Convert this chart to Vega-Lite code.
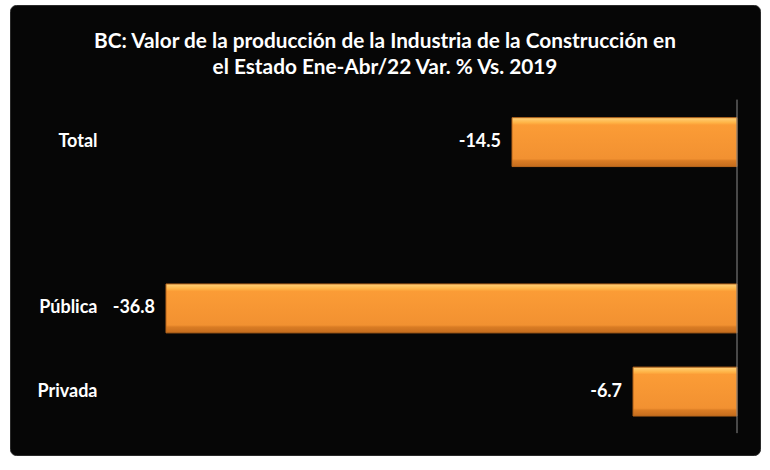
{
  "$schema": "https://vega.github.io/schema/vega-lite/v6.json",
  "width": 750,
  "height": 450,
  "autosize": "none",
  "padding": {"left": 10, "top": 5, "right": 10, "bottom": 15},
  "background": "white",
  "title": {
    "text": ["BC: Valor de la producción de la Industria de la Construcción en", "el Estado Ene-Abr/22 Var. % Vs. 2019"],
    "color": "white",
    "font": "Lato",
    "fontSize": 20.8,
    "fontWeight": "bold",
    "lineHeight": 26,
    "anchor": "middle",
    "offset": -74
  },
  "config": {
    "view": {"fill": "#060606", "stroke": "#2a2a2a", "cornerRadius": 6},
    "locale": {"number": {"decimal": ".", "thousands": ",", "grouping": [3], "currency": ["$", ""], "minus": "-"}}
  },
  "data": {
    "values": [
      {"sector": "Total", "var": -14.5},
      {"sector": "Pública", "var": -36.8},
      {"sector": "Privada", "var": -6.7}
    ]
  },
  "layer": [
    {
      "mark": {
        "type": "bar",
        "stroke": "#B9671C",
        "strokeWidth": 1,
        "color": {
          "gradient": "linear",
          "x1": 0, "y1": 0, "x2": 0, "y2": 1,
          "stops": [
            {"offset": 0, "color": "#FFD27A"},
            {"offset": 0.1, "color": "#FFB447"},
            {"offset": 0.15, "color": "#FB9C36"},
            {"offset": 0.84, "color": "#F29131"},
            {"offset": 0.88, "color": "#DA7C24"},
            {"offset": 1, "color": "#C46C1D"}
          ]
        }
      },
      "encoding": {
        "y": {
          "field": "sector",
          "type": "nominal",
          "scale": {"domain": ["Total", " ", "Pública", "Privada"], "paddingInner": 0.412, "paddingOuter": 0.912, "align": 0.743},
          "axis": {
            "title": null,
            "orient": "left",
            "offset": -87,
            "domain": false,
            "ticks": false,
            "labelPadding": 0,
            "labelColor": "white",
            "labelFont": "Lato",
            "labelFontSize": 18,
            "labelFontWeight": "bold",
            "labelAlign": "right"
          }
        },
        "x": {
          "field": "var",
          "type": "quantitative",
          "scale": {"domain": [-46.855, 1.482], "nice": false, "zero": false},
          "axis": null
        }
      }
    },
    {
      "mark": {"type": "text", "align": "right", "baseline": "middle", "dx": -11, "color": "white", "font": "Lato", "fontSize": 18, "fontWeight": "bold"},
      "encoding": {
        "y": {"field": "sector", "type": "nominal"},
        "x": {"field": "var", "type": "quantitative"},
        "text": {"field": "var", "type": "quantitative", "format": ".1f"}
      }
    },
    {
      "data": {"values": [{}]},
      "mark": {"type": "rule", "color": "#8a8a8a", "strokeWidth": 1},
      "encoding": {
        "x": {"datum": 0, "type": "quantitative"},
        "y": {"datum": "Total", "type": "nominal", "bandPosition": -0.37},
        "y2": {"datum": "Privada", "bandPosition": 1.35}
      }
    }
  ]
}
